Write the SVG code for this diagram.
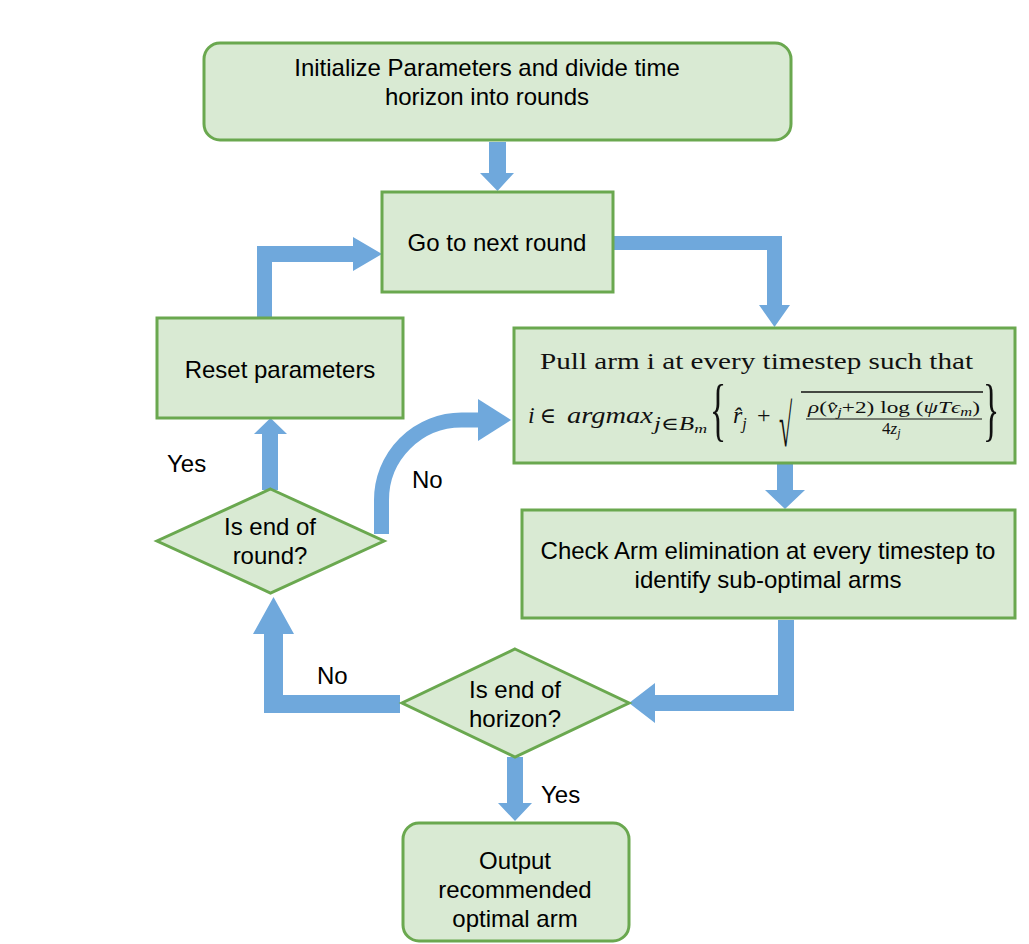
<svg xmlns="http://www.w3.org/2000/svg" width="1029" height="944" viewBox="0 0 1029 944">
<defs>
<style>
.box{fill:#d9ead3;stroke:#6aa84f;stroke-width:3}
.lbl{font-family:"Liberation Sans",Arial,sans-serif;font-size:24px;fill:#000;text-anchor:middle}
.lbs{font-family:"Liberation Sans",Arial,sans-serif;font-size:24px;fill:#000}
.arr{fill:#6fa8dc;stroke:none}
.m{font-family:"Liberation Serif","DejaVu Serif",serif;fill:#111}
.it{font-style:italic}
</style>
</defs>
<rect width="1029" height="944" fill="#fff"/>
<g id="connectors">
<path class="arr" d="M489 142 H506 V173 H514 L497.5 191 L480 173 H489 Z"/>
<path class="arr" d="M613 236 H782 V305 H790 L774.5 327 L759 305 H767 V250 H613 Z"/>
<path class="arr" d="M777 464 H793 V490 H805 L785 509 L765 490 H777 Z"/>
<path class="arr" d="M778 620 H794 V711 H655 V723 L629 703 L655 683 V695 H778 Z"/>
<path class="arr" d="M400 695 V713 H264 V634 H253 L273.5 597 L294 634 H283 V695 Z"/>
<path class="arr" d="M262 490 V434 H254 L270.5 418 L287 434 H278 V490 Z"/>
<path class="arr" d="M257 318 V246 H353 V237 L382 254 L353 271 V262 H272 V318 Z"/>
<path d="M381.5 534 V500 A80 80 0 0 1 461.5 420 H479" fill="none" stroke="#6fa8dc" stroke-width="15"/>
<path class="arr" d="M478 399 L511 420 L478 441 Z"/>
<path class="arr" d="M507 757 V803 H498 L515 821 L532 803 H523 V757 Z"/>
<text class="lbs" x="167" y="472">Yes</text>
<text class="lbs" x="412" y="488">No</text>
<text class="lbs" x="317" y="684">No</text>
<text class="lbs" x="541" y="803">Yes</text>
</g>
<g id="init">
<rect class="box" x="204" y="43" width="587" height="97" rx="16"/>
<text class="lbl" x="487" y="76">Initialize Parameters and divide time</text>
<text class="lbl" x="487" y="105">horizon into rounds</text>
</g>
<g id="next-round">
<rect class="box" x="382" y="192" width="231" height="100"/>
<text class="lbl" x="497" y="251">Go to next round</text>
</g>
<g id="reset">
<rect class="box" x="157" y="318" width="246" height="100"/>
<text class="lbl" x="280" y="378">Reset parameters</text>
</g>
<g id="pull-arm">
<rect class="box" x="514" y="328" width="501" height="135"/>
<text class="m" x="540" y="369" font-size="24" textLength="433" lengthAdjust="spacingAndGlyphs">Pull arm i at every timestep such that</text>
<text class="m" x="528" y="423" font-size="24"><tspan class="it">i</tspan><tspan dx="5" font-size="22">∈</tspan></text>
<text class="m it" x="567" y="423" font-size="24" textLength="86" lengthAdjust="spacingAndGlyphs">argmax</text>
<text class="m" x="654" y="430" font-size="18" textLength="53" lengthAdjust="spacingAndGlyphs"><tspan class="it">j</tspan>∈<tspan class="it">B</tspan><tspan class="it" font-size="13" dy="3">m</tspan></text>
<text class="m" font-size="28" transform="translate(710,416.5) scale(1.2,2.5)" y="6.6">{</text>
<text class="m" x="733" y="423" font-size="24"><tspan class="it">r̂</tspan><tspan class="it" dy="6" font-size="16">j</tspan></text>
<text class="m" x="757" y="423" font-size="24">+</text>
<text class="m" font-size="24" transform="translate(779,446) scale(1,2.5)" y="0">√</text>
<line x1="801" y1="392" x2="983" y2="392" stroke="#111" stroke-width="1.3"/>
<text class="m" x="808" y="413" font-size="17" textLength="172" lengthAdjust="spacingAndGlyphs"><tspan class="it">ρ</tspan>(<tspan class="it">v̂</tspan><tspan font-size="12" dy="3" class="it">j</tspan><tspan dy="-3">+2) log (</tspan><tspan class="it">ψTϵ</tspan><tspan font-size="12" dy="3" class="it">m</tspan><tspan dy="-3">)</tspan></text>
<line x1="806" y1="419" x2="982" y2="419" stroke="#111" stroke-width="1"/>
<text class="m" x="882" y="434" font-size="17">4<tspan class="it">z</tspan><tspan class="it" font-size="12" dy="3">j</tspan></text>
<text class="m" font-size="28" transform="translate(983,416.5) scale(1.2,2.5)" y="6.6">}</text>
</g>
<g id="check-arm">
<rect class="box" x="522" y="510" width="493" height="108"/>
<text class="lbl" x="768" y="559">Check Arm elimination at every timestep to</text>
<text class="lbl" x="768" y="588">identify sub-optimal arms</text>
</g>
<g id="end-of-round">
<polygon class="box" points="270.5,489 384,541 270.5,593 157,541"/>
<text class="lbl" x="270" y="535">Is end of</text>
<text class="lbl" x="270" y="564">round?</text>
</g>
<g id="end-of-horizon">
<polygon class="box" points="515,649 629,703 515,757 402,703"/>
<text class="lbl" x="515" y="698">Is end of</text>
<text class="lbl" x="515" y="727">horizon?</text>
</g>
<g id="output">
<rect class="box" x="403" y="823" width="226" height="118" rx="16"/>
<text class="lbl" x="515" y="869">Output</text>
<text class="lbl" x="515" y="898">recommended</text>
<text class="lbl" x="515" y="927">optimal arm</text>
</g>
</svg>
